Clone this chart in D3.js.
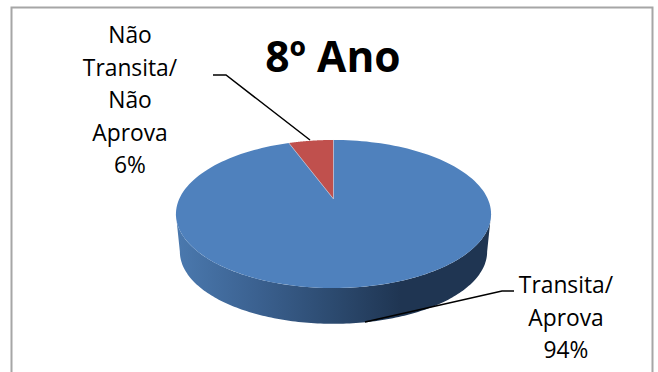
<!DOCTYPE html>
<html><head><meta charset="utf-8">
<script src="https://cdn.jsdelivr.net/npm/d3@7"></script>
<style>html,body{margin:0;padding:0;background:#fff}svg{display:block}text{font-family:"Open Sans",sans-serif;fill:#000}</style>
</head><body><svg id="c" width="658" height="372"></svg>
<script>
const titleText = "8º Ano";
const categories = ["Transita/ Aprova", "Não Transita/ Não Aprova"];
const values = [94.4, 5.6];
const labelLines = [["Transita/", "Aprova"], ["Não", "Transita/", "Não", "Aprova"]];
const sliceColors = ["#4f81bd", "#c0504d"];

const svg = d3.select("#c");
const defs = svg.append("defs");
const grad = defs.append("linearGradient").attr("id","side").attr("gradientUnits","userSpaceOnUse")
  .attr("x1",180).attr("x2",487).attr("y1",0).attr("y2",0);
[[0,"#4a78ad"],[0.25,"#3b6190"],[0.5,"#2c4a6f"],[0.72,"#1f3552"],[1,"#1f3552"]]
  .forEach(([o,c])=>grad.append("stop").attr("offset",o).attr("stop-color",c));

svg.append("path").attr("d","M11.5,372V7.5H652.5V372").attr("fill","none").attr("stroke","#a6a6a6").attr("stroke-width",2);

const cx = 333.5, apexY = 199, rX = 154.3, rY = 71, p = 0.2027;
const proj = (a, k=1, y0=apexY) => {
  const X = Math.sin(a), Y = Math.cos(a), w = 1 + p*Y;
  return [cx + k*rX*X/w, y0 - k*rY*Y/w];
};
const pie = d3.pie().sort(null).startAngle(0).endAngle(2*Math.PI);
const arcs = pie(values);
const line = d3.line();
const sample = (a0,a1,k,y0,n=160) => d3.range(n+1).map(i=>proj(a0+(a1-a0)*i/n,k,y0));

// side wall: visible front half of the blue slice
const wallTop = sample(Math.acos(-p), 2*Math.PI-Math.acos(-p), 1, apexY);
const wallBot = sample(Math.acos(-p), 2*Math.PI-Math.acos(-p), 0.975, 237).reverse();
svg.append("path").attr("d", line(wallTop.concat(wallBot))+"Z").attr("fill","url(#side)");

// top face
arcs.forEach((d,i)=>{
  const pts = [proj(0,0)].concat(sample(d.startAngle,d.endAngle,1,apexY));
  svg.append("path").attr("d", line(pts)+"Z").attr("fill",sliceColors[i]);
});
// slice separators
arcs.forEach(d=>{
  svg.append("path").attr("d", line([proj(0,0),proj(d.startAngle)])).attr("stroke","#b9c9df").attr("stroke-width",0.7).attr("fill","none");
});

svg.append("text").attr("x",333).attr("y",72).attr("text-anchor","middle")
  .attr("font-size",42.5).style("font-weight",700).text(titleText);

const pct = d3.format(".0%");
const total = d3.sum(values);
const lab = (lines,x,y0,dy,v)=>lines.concat([pct(v/total)]).forEach((t,i)=>
  svg.append("text").attr("x",x).attr("y",y0+i*dy).attr("text-anchor","middle").attr("font-size",22.8).text(t));
lab(labelLines[0],566,293,32.5,values[0]);
lab(labelLines[1],130,43,32.5,values[1]);

const leader = pts => svg.append("path").attr("d",line(pts)).attr("fill","none").attr("stroke","#000").attr("stroke-width",1.5);
leader([[213,75],[226,75],[310,140]]);
leader([[514,291],[502,291],[365,322]]);
</script></body></html>
